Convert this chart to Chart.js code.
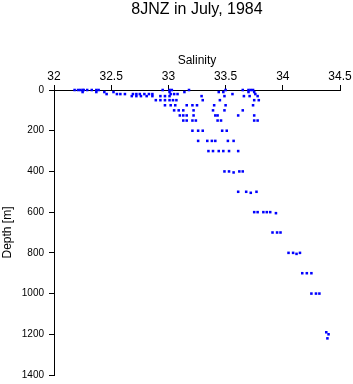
<!DOCTYPE html>
<html>
<head>
<meta charset="utf-8">
<script src="https://cdn.jsdelivr.net/npm/chart.js@4/dist/chart.umd.min.js"></script>
<style>
  html, body { margin: 0; padding: 0; background: #fff; }
  #wrap { width: 353px; height: 384px; }
</style>
</head>
<body>
<div id="wrap"><canvas id="chart"></canvas></div>
<script>
// salinity / depth pairs, one line per sampled depth level
const salinity = [
  32.18, 32.21, 32.23, 32.25, 32.26, 32.29, 32.33, 32.37, 32.39, 32.95, 33.01, 33.03, 33.18, 33.50, 33.65, 33.70, 33.72, 33.74,
  32.25, 32.37, 32.44, 32.52, 33.01, 33.14, 33.44, 33.48, 33.70, 33.75,
  32.46, 32.55, 32.58, 32.62, 32.69, 32.72, 32.75, 32.79, 32.83, 32.86, 33.02, 33.05, 33.08, 33.56, 33.76,
  32.68, 32.72, 32.76, 32.81, 32.86, 32.93, 32.97, 33.01, 33.29, 33.49, 33.66, 33.71, 33.78,
  32.89, 32.93, 32.97, 33.01, 33.04, 33.07, 33.30, 33.45, 33.75, 33.79,
  32.97, 33.02, 33.06, 33.16, 33.21, 33.25, 33.40, 33.50, 33.74,
  33.05, 33.09, 33.13, 33.22, 33.39, 33.49, 33.65,
  33.10, 33.13, 33.16, 33.22, 33.41, 33.43, 33.61, 33.75,
  33.13, 33.16, 33.21, 33.24, 33.43, 33.46, 33.75, 33.78,
  33.21, 33.26, 33.30, 33.47, 33.51,
  33.26, 33.34, 33.38, 33.41, 33.52, 33.57,
  33.35, 33.39, 33.44, 33.48, 33.53, 33.61,
  33.49, 33.53, 33.57, 33.62, 33.65,
  33.61, 33.68, 33.72, 33.77,
  33.75, 33.78, 33.83, 33.86, 33.89, 33.94,
  33.91, 33.95, 33.98,
  34.05, 34.09, 34.12, 34.15,
  34.17, 34.21, 34.25,
  34.25, 34.29, 34.32,
  34.38, 34.40, 34.39
];
const depth = [
  0, 0, 0, 0, 0, 0, 0, 0, 0, 0, 0, 0, 0, 0, 0, 0, 0, 0,
  10, 10, 10, 10, 10, 10, 10, 10, 10, 10,
  20, 20, 20, 20, 20, 20, 20, 20, 20, 20, 20, 20, 20, 20, 20,
  30, 30, 30, 30, 30, 30, 30, 30, 30, 30, 30, 30, 30,
  50, 50, 50, 50, 50, 50, 50, 50, 50, 50,
  75, 75, 75, 75, 75, 75, 75, 75, 75,
  100, 100, 100, 100, 100, 100, 100,
  125, 125, 125, 125, 125, 125, 125, 125,
  150, 150, 150, 150, 150, 150, 150, 150,
  200, 200, 200, 200, 200,
  250, 250, 250, 250, 250, 250,
  300, 300, 300, 300, 300, 300,
  400, 400, 405, 400, 400,
  500, 500, 505, 500,
  600, 600, 600, 600, 600, 605,
  700, 700, 700,
  800, 800, 805, 800,
  900, 900, 900,
  1000, 1000, 1000,
  1190, 1200, 1220
];
const salinityTicks = [32, 32.5, 33, 33.5, 34, 34.5];
const depthTicks = [0, 200, 400, 600, 800, 1000, 1200, 1400];

const points = salinity.map((s, i) => ({ x: s, y: depth[i] }));

Chart.defaults.font.family = '"Liberation Sans", Arial, sans-serif';
Chart.defaults.color = '#000';

const titleH = 19.2;

new Chart(document.getElementById('chart').getContext('2d'), {
  type: 'scatter',
  data: {
    datasets: [{
      data: points,
      pointStyle: 'rect',
      radius: 1.8,
      backgroundColor: '#0000ff',
      borderColor: '#0000ff',
      borderWidth: 0,
      clip: false
    }]
  },
  options: {
    responsive: true,
    maintainAspectRatio: false,
    animation: false,
    layout: { padding: { left: 0, right: 13, top: 0, bottom: 0 } },
    plugins: {
      legend: { display: false },
      tooltip: { enabled: false },
      title: {
        display: true,
        text: '8JNZ in July, 1984',
        fullSize: false,
        font: { size: 16, weight: 'normal' },
        color: '#000',
        padding: { top: 0, bottom: 0 }
      }
    },
    scales: {
      x: {
        type: 'linear',
        position: 'top',
        min: 32,
        max: 34.5,
        afterBuildTicks: s => { s.ticks = salinityTicks.map(v => ({ value: v })); },
        afterFit: s => { s.height = 90 - titleH; },
        ticks: { font: { size: 12 }, padding: 1, maxRotation: 0, callback: v => String(v) },
        grid: { drawOnChartArea: false, drawTicks: true, tickLength: 5, color: '#000' },
        border: { display: true, color: '#000', width: 1 },
        title: { display: true, text: 'Salinity', font: { size: 12 }, padding: { top: 34, bottom: 0 } }
      },
      y: {
        type: 'linear',
        reverse: true,
        min: 0,
        max: 1400,
        afterBuildTicks: s => { s.ticks = depthTicks.map(v => ({ value: v })); },
        afterFit: s => { s.width = 54; },
        ticks: { font: { size: 10, lineHeight: 0.8 }, padding: 5, callback: v => String(v) },
        grid: { drawOnChartArea: false, drawTicks: true, tickLength: 5, color: '#000' },
        border: { display: true, color: '#000', width: 1 },
        title: { display: true, text: 'Depth [m]', font: { size: 12 }, padding: 0 }
      }
    }
  }
});
</script>
</body>
</html>
